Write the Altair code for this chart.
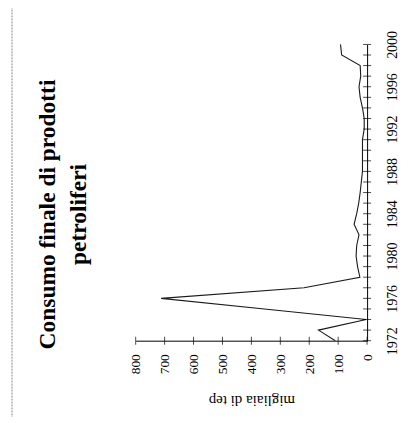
import altair as alt
import pandas as pd

# ---- data ----
years = list(range(1972, 2001))
consumo = [110, 168, 3, 355, 712, 218, 25, 33, 38, 36, 28, 45, 36, 29, 24, 20,
           16, 16, 16, 16, 10, 10, 16, 24, 28, 22, 24, 88, 92]
value_ticks = [0, 100, 200, 300, 400, 500, 600, 700, 800]
year_labels = [1972, 1976, 1980, 1984, 1988, 1992, 1996, 2000]
title_lines = ["Consumo finale di prodotti", "petroliferi"]
axis_title = "migliaia di tep"

df = pd.DataFrame({"anno": years, "val": consumo})
df_yticks = pd.DataFrame({"anno": years, "val": [0] * len(years)})
df_vticks = pd.DataFrame({"val": value_ticks, "anno": [years[0]] * len(value_ticks)})

FONT = "Liberation Serif"
x_scale = alt.Scale(domain=[0, 800], reverse=True, nice=False, zero=False)
y_scale = alt.Scale(domain=[1972, 2000], nice=False, zero=False)

x_axis = alt.Axis(orient="bottom", values=value_ticks, format="d",
                  labelAngle=270, labelAlign="right", labelBaseline="middle",
                  labelPadding=13, ticks=False, grid=False,
                  domainColor="black", domainWidth=1,
                  labelFont=FONT, labelFontSize=13.5, labelColor="black",
                  title=axis_title, titleAngle=180, titleBaseline="middle",
                  titleY=60, titleFont=FONT, titleFontSize=15,
                  titleFontWeight="normal", titleColor="black")
y_axis = alt.Axis(orient="right", values=year_labels, format="d",
                  labelAngle=270, labelAlign="center", labelBaseline="top",
                  labelPadding=18, ticks=False, grid=False,
                  domainColor="black", domainWidth=1,
                  labelFont=FONT, labelFontSize=14, labelColor="black",
                  title=None)

X = alt.X("val:Q", scale=x_scale, axis=x_axis)
Y = alt.Y("anno:Q", scale=y_scale, axis=y_axis)

line = alt.Chart(df).mark_line(color="#1a1a1a", strokeWidth=1.1).encode(
    x=X, y=Y, order=alt.Order("anno:Q"))

year_ticks = alt.Chart(df_yticks).mark_tick(orient="horizontal", color="black",
                                             thickness=1, size=8).encode(x=X, y=Y)

value_tick_marks = alt.Chart(df_vticks).mark_tick(orient="vertical", color="black",
                                                  thickness=1, size=8).encode(x=X, y=Y)

frame_left = alt.Chart(df.head(1)).mark_rule(color="#888888", strokeWidth=1,
                                             strokeDash=[2, 1]).encode(
    x=alt.value(-124), y=alt.value(-38), y2=alt.value(384))
frame_top = alt.Chart(df.head(1)).mark_rule(color="#888888", strokeWidth=1,
                                            strokeDash=[2, 1]).encode(
    x=alt.value(-124), x2=alt.value(279), y=alt.value(-38))

chart = alt.layer(line, year_ticks, value_tick_marks, frame_left, frame_top).properties(
    width=232,
    height=297,
    autosize=alt.AutoSizeParams(type="none"),
    padding={"left": 128, "top": 36, "right": 40, "bottom": 76},
    background="white",
    title=alt.TitleParams(text=title_lines, orient="left", anchor="middle",
                          font=FONT, fontSize=23.5, fontWeight="bold",
                          color="black", lineHeight=31, offset=-79, dx=-22),
).configure_view(strokeWidth=0)

chart.save("out.html", embed_options={"renderer": "svg", "actions": False})
